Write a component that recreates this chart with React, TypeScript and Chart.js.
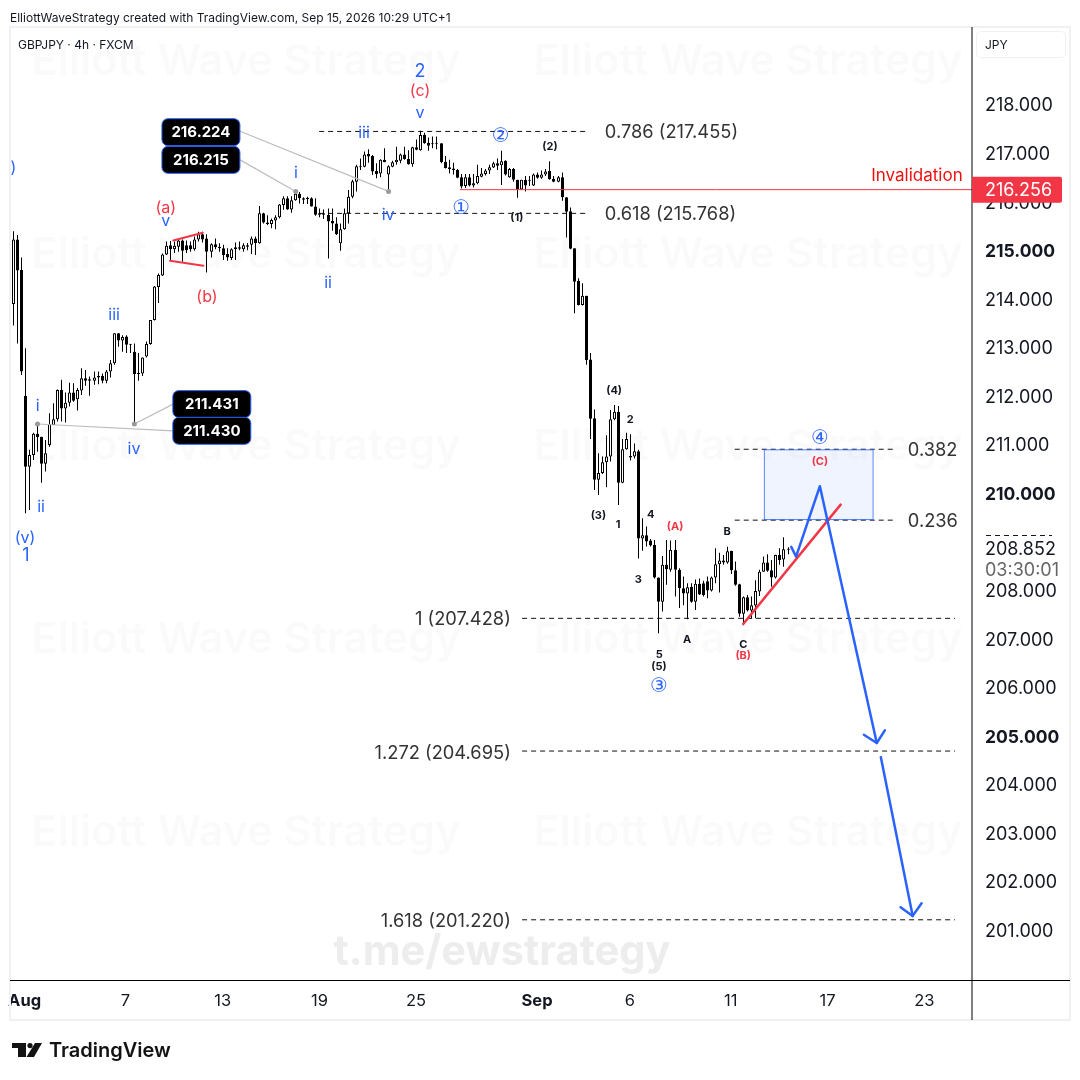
import React, { useEffect, useRef } from "react";
import { Chart, registerables } from "chart.js";

Chart.register(...registerables);

const FONT = "Inter, 'Noto Sans', sans-serif";
const BLUE = "#2962ff";
const RED = "#f23645";
const INK = "#131722";

const opens = [213.92,213.90,215.23,214.60,212.01,210.55,210.79,211.23,211.17,210.61,211.00,211.41,211.53,212.13,211.75,211.87,212.08,211.94,212.12,212.37,212.35,212.32,212.42,212.42,212.32,212.51,212.68,213.30,213.15,213.23,213.08,212.92,212.47,212.47,212.82,213.08,213.57,214.25,214.49,214.92,215.11,215.03,215.08,215.21,215.11,215.11,215.03,215.23,215.34,215.25,214.98,215.13,215.08,215.05,214.93,214.85,215.03,215.07,215.03,215.11,215.12,215.25,215.15,215.77,215.58,215.55,215.62,215.69,215.94,216.08,215.85,216.04,216.17,216.08,216.09,216.08,215.91,215.77,215.77,215.74,215.61,215.56,215.15,215.44,215.77,216.11,216.42,216.74,216.73,216.99,216.95,216.64,216.59,216.87,216.57,216.73,216.82,216.85,216.98,216.89,216.78,217.13,217.07,217.38,217.22,217.20,217.21,217.21,216.83,216.72,216.69,216.66,216.51,216.33,216.51,216.34,216.39,216.52,216.58,216.65,216.71,216.80,216.76,216.85,216.51,216.68,216.46,216.26,216.46,216.46,216.34,216.57,216.50,216.57,216.64,216.48,216.42,216.51,216.10,215.81,215.05,214.38,213.88,214.07,212.76,211.55,210.28,210.42,210.64,210.76,211.53,211.68,210.22,210.91,210.77,210.76,210.87,209.07,209.14,209.03,208.94,208.27,207.77,208.53,208.43,208.84,208.43,208.05,207.94,208.08,207.77,208.14,208.15,208.19,208.00,208.27,208.54,208.62,208.58,208.82,208.42,208.13,207.52,207.86,207.59,207.69,207.98,208.39,208.58,208.42,208.27,208.73,208.64,208.85];
const highs = [216.08,215.40,215.32,214.86,212.99,210.90,211.25,211.44,211.17,211.10,211.65,211.86,212.14,212.34,212.08,212.28,212.27,212.17,212.58,212.54,212.41,212.51,212.51,212.47,212.54,212.75,213.30,213.30,213.26,213.26,213.08,213.09,212.89,212.80,213.13,213.57,214.27,214.53,214.94,215.19,215.20,215.19,215.23,215.23,215.21,215.19,215.29,215.39,215.39,215.34,215.15,215.25,215.15,215.12,215.05,215.05,215.17,215.19,215.15,215.16,215.29,215.29,215.92,215.78,215.73,215.66,215.73,215.96,216.12,216.12,216.12,216.22,216.21,216.10,216.11,216.10,216.08,215.87,215.85,215.87,215.87,215.69,215.56,215.87,216.25,216.46,216.77,216.90,217.04,217.09,216.97,216.80,216.88,217.11,216.76,216.85,217.14,217.00,217.14,217.07,217.14,217.29,217.47,217.43,217.33,217.35,217.35,217.21,216.95,216.87,216.81,216.68,216.58,216.58,216.58,216.58,216.77,216.70,216.68,216.77,216.83,216.90,217.06,216.86,216.70,216.70,216.46,216.46,216.54,216.54,216.59,216.61,216.65,216.68,216.84,216.54,216.54,216.61,216.10,215.89,215.05,214.43,214.33,214.07,212.89,211.73,210.83,210.76,211.20,211.72,211.82,211.80,211.12,211.25,211.22,211.03,210.90,209.49,209.32,209.06,209.04,208.27,208.71,209.04,209.03,209.04,208.46,208.29,208.15,208.15,208.23,208.25,208.20,208.29,208.29,208.87,208.78,208.73,208.90,208.82,208.60,208.14,207.88,207.91,207.88,208.21,208.43,208.70,208.75,208.63,208.74,208.87,209.10,208.89];
const lows = [213.92,213.46,213.09,212.44,209.59,209.66,210.69,210.86,210.22,210.45,210.96,211.41,211.48,211.48,211.46,211.79,211.89,211.71,212.03,212.22,212.01,212.24,212.25,212.27,212.27,212.39,212.65,213.02,212.92,212.89,212.89,211.43,212.32,212.42,212.80,213.06,213.56,213.92,214.48,214.91,214.81,214.95,214.98,214.77,214.95,214.98,215.00,215.19,215.17,214.55,214.86,215.03,214.98,214.81,214.79,214.81,214.81,215.01,214.98,215.01,214.93,214.91,215.14,215.56,215.53,215.46,215.44,215.66,215.84,215.84,215.78,216.03,215.97,215.96,215.96,215.91,215.72,215.69,215.65,214.84,215.41,215.32,215.00,215.43,215.56,216.08,216.22,216.66,216.72,216.81,216.56,216.49,216.51,216.82,216.22,216.72,216.77,216.80,216.87,216.77,216.73,217.07,217.06,217.20,217.06,217.11,217.09,216.80,216.69,216.59,216.57,216.49,216.28,216.29,216.32,216.30,216.37,216.51,216.55,216.58,216.70,216.66,216.35,216.55,216.50,216.42,216.09,216.25,216.22,216.33,216.33,216.48,216.48,216.54,216.46,216.41,216.41,216.03,215.27,215.03,213.71,213.87,213.87,212.65,211.12,210.07,209.97,210.40,210.13,210.66,211.51,209.76,210.21,210.90,210.68,210.72,208.66,208.82,208.91,208.91,208.25,207.12,207.57,208.12,208.39,207.88,207.64,207.70,207.41,207.75,207.60,207.91,207.88,207.84,207.98,208.15,207.96,208.53,208.55,208.34,208.10,207.46,207.29,207.57,207.43,207.43,207.89,208.39,208.39,208.08,208.25,208.53,208.49,208.75];
const closes = [216.08,215.23,214.59,212.51,210.55,210.79,211.23,211.16,210.61,210.83,211.43,211.53,212.13,211.75,211.87,212.08,211.91,212.13,212.37,212.32,212.32,212.39,212.39,212.32,212.51,212.68,213.30,213.15,213.22,213.06,213.06,212.46,212.46,212.80,213.08,213.57,214.26,214.50,214.92,215.10,215.03,215.10,215.21,215.00,215.01,215.03,215.23,215.34,215.23,214.98,215.13,215.07,215.05,214.91,214.86,215.03,215.07,215.04,215.11,215.08,215.25,215.15,215.77,215.58,215.55,215.63,215.69,215.95,216.08,215.85,216.04,216.17,216.08,216.05,216.06,215.91,215.74,215.74,215.74,215.60,215.56,215.34,215.44,215.77,216.11,216.43,216.74,216.72,216.98,216.94,216.63,216.58,216.87,216.82,216.74,216.82,216.87,216.98,216.89,216.78,217.13,217.08,217.38,217.21,217.16,217.19,217.20,216.82,216.70,216.68,216.66,216.50,216.32,216.51,216.34,216.39,216.54,216.59,216.65,216.72,216.80,216.75,216.84,216.57,216.68,216.46,216.26,216.46,216.34,216.44,216.57,216.50,216.57,216.63,216.47,216.42,216.51,216.10,215.80,215.04,214.36,213.88,214.07,212.75,211.54,210.28,210.42,210.64,210.76,211.53,211.68,210.22,210.91,211.12,210.74,210.87,209.07,209.14,209.01,208.93,208.27,207.77,208.53,208.44,208.84,208.43,208.05,207.94,208.07,207.77,208.14,207.92,207.91,208.00,208.27,208.54,208.62,208.58,208.81,208.42,208.12,207.52,207.86,207.59,207.70,207.99,208.39,208.58,208.41,208.27,208.73,208.63,208.85,208.84];

const xTickBars = [3.8, 28.8, 52.9, 76.9, 100.8, 130.8, 153.8, 178.8, 202.8, 226.8];
const xTickLabels = ["Aug", "7", "13", "19", "25", "Sep", "6", "11", "17", "23"];
const xTickBold = ["Aug", "Sep"];
const yTickValues = [201,202,203,204,205,206,207,208,210,211,212,213,214,215,216,217,218];

// [level, first bar, last bar]
const fibLevels = [
  [217.455, 76.8, 143.4],
  [215.768, 76.8, 143.4],
  [210.91, 179.8, 219.5],
  [209.45, 179.8, 219.5],
  [207.428, 127.1, 234.4],
  [204.695, 127.1, 234.4],
  [201.22, 127.1, 234.4],
];
const invalidationLine = [[111.7, 216.256], [239, 216.256]];
const wedgeUpper = [[40.65, 215.21], [47.94, 215.37]];
const wedgeLower = [[39.85, 214.79], [48.1, 214.69]];
const trendLine = [[181.9, 207.31], [206.05, 209.77]];
const wavePath = [[193.8, 208.9], [195, 208.7], [200.9, 210.15], [215, 204.86]];
const arrowHeadOne = [[211.8, 205.03], [215, 204.86], [217, 205.12]];
const waveTail = [[216, 204.57], [223.9, 201.3]];
const arrowHeadTwo = [[220.9, 201.48], [223.9, 201.3], [226.1, 201.56]];
const targetBox = { bar: 200.6, low: 209.45, high: 210.91 };
const calloutLines = [
  [[57.2, 217.46], [94, 216.22]],
  [[57.2, 216.87], [71, 216.22]],
  [[40.6, 211.84], [31, 211.43]],
  [[40.6, 211.29], [7, 211.43]],
];
// [text, bar, price]
const callouts = [
  ["216.224", 47.5, 217.44],
  ["216.215", 47.5, 216.87],
  ["211.431", 50.2, 211.84],
  ["211.430", 50.2, 211.29],
];

// [text, bar, price]
const blueLabels = [
  [")", 1, 216.72],["(v)", 3.9, 209.1],["i", 7.05, 211.81],["ii", 7.87, 209.73],["iii", 26, 213.7],["iv", 30.9, 210.94],["v", 38.8, 215.63],
  ["i", 71.05, 216.62],["ii", 79, 214.36],["iii", 87.9, 217.44],["iv", 93.9, 215.76],["v", 101.8, 217.86],
];
const blueLargeLabels = [["1", 4.15, 208.75],["2", 101.8, 218.7]];
const blueCircled = [["①", 112, 215.88],["②", 121.8, 217.36],["③", 161, 206.04],["④", 200.9, 211.15]];
const redLabels = [["(a)", 38.8, 215.9],["(b)", 49, 214.07],["(c)", 101.8, 218.31]];
const redSmallLabels = [["(A)", 165, 209.34],["(B)", 181.9, 206.67],["(C)", 200.9, 210.67]];
const blackSmallLabels = [
  ["(1)", 125.8, 215.69],["(2)", 134, 217.16],["(4)", 149.9, 212.13],["2", 153.9, 211.53],["(3)", 146, 209.57],["1", 150.9, 209.37],
  ["4", 159, 209.59],["3", 155.9, 208.25],["A", 168, 207],["5", 161.1, 206.71],["(5)", 161, 206.45],["B", 177.9, 209.23],["C", 181.9, 206.91],
];
const fibTextsLeft = [["0.786 (217.455)", 147.6, 217.45],["0.618 (215.768)", 147.6, 215.77],["0.382", 222.7, 210.9],["0.236", 222.7, 209.44]];
const fibTextsRight = [["1 (207.428)", 124.3, 207.43],["1.272 (204.695)", 124.3, 204.67],["1.618 (201.220)", 124.3, 201.2]];
const invalidationText = ["Invalidation", 236.3, 216.56];

const headerText = "ElliottWaveStrategy created with TradingView.com, Sep 15, 2026 10:29 UTC+1";
const symbolText = "GBPJPY · 4h · FXCM";
const watermarkText = "Elliott Wave Strategy";
const watermarkLink = "t.me/ewstrategy";
const lastPriceTag = "216.256";
const livePrice = "208.852";
const countdown = "03:30:01";

const asPoints = (pts: number[][]) => pts.map(([x, y]) => ({ x, y }));
const line = (pts: number[][], color: string, width: number, order: number, extra: any = {}) => ({
  type: "line",
  data: asPoints(pts),
  borderColor: color,
  backgroundColor: color,
  borderWidth: width,
  pointRadius: 0,
  tension: 0,
  order,
  borderCapStyle: "round",
  borderJoinStyle: "round",
  ...extra,
});

const overlay = {
  id: "overlay",
  afterDatasetsUpdate(chart: any) {
    chart.data.datasets.forEach((d: any, i: number) => {
      if (!d.snap) return;
      chart.getDatasetMeta(i).data.forEach((el: any) => {
        el.x = Math.round(el.x - 0.5) + 0.5;
      });
    });
  },
  beforeDatasetsDraw(chart: any) {
    const c = chart.ctx;
    c.save();
    c.textBaseline = "middle";
    c.textAlign = "center";
    c.font = `600 43px ${FONT}`;
    c.fillStyle = "rgba(0,0,0,0.018)";
    for (const y of [62, 255, 447, 640, 833]) {
      c.fillText(watermarkText, 246, y);
      c.fillText(watermarkText, 748, y);
    }
    c.font = `700 41.5px ${FONT}`;
    c.fillStyle = "#ededed";
    c.fillText(watermarkLink, 502, 953);
    c.restore();
  },
  afterDatasetsDraw(chart: any) {
    const c = chart.ctx;
    const xs = chart.scales.x;
    const ys = chart.scales.y;
    const text = (rows: any[], color: string, font: string, align: CanvasTextAlign = "center") => {
      c.fillStyle = color;
      c.font = font;
      c.textAlign = align;
      c.textBaseline = "middle";
      for (const [t, bar, price] of rows) c.fillText(t, xs.getPixelForValue(bar), ys.getPixelForValue(price) + 1);
    };
    c.save();
    text(blueLabels, BLUE, `400 16px ${FONT}`);
    text(blueLargeLabels, BLUE, `400 18px ${FONT}`);
    text(blueCircled, BLUE, `400 20px 'DejaVu Sans'`);
    text(redLabels, RED, `400 16px ${FONT}`);
    text(redSmallLabels, RED, `700 11px ${FONT}`);
    text(blackSmallLabels, INK, `700 11px ${FONT}`);
    text(fibTextsLeft, "#333", `400 18.3px ${FONT}`, "left");
    text(fibTextsRight, "#333", `400 18.3px ${FONT}`, "right");
    text([invalidationText], "#f00f0f", `400 17px ${FONT}`, "right");

    for (const [t, bar, price] of callouts as any[]) {
      const cx = xs.getPixelForValue(bar);
      const cy = ys.getPixelForValue(price);
      c.beginPath();
      c.roundRect(cx - 39, cy - 13.5, 78, 27, 6);
      c.fillStyle = "#000";
      c.fill();
      c.strokeStyle = BLUE;
      c.lineWidth = 1;
      c.stroke();
      c.fillStyle = "#fff";
      c.font = `700 15px ${FONT}`;
      c.textAlign = "center";
      c.textBaseline = "middle";
      c.fillText(t, cx, cy + 0.5);
    }
    c.restore();
  },
  afterDraw(chart: any) {
    const c = chart.ctx;
    const ys = chart.scales.y;
    c.save();
    // frame
    c.strokeStyle = "#f0f1f3";
    c.lineWidth = 2;
    c.strokeRect(10, 27, 1060, 993);
    c.fillStyle = "#000";
    c.fillRect(971.5, 27, 1, 993);
    c.fillRect(10, 980, 1060, 1);

    // unit box
    c.beginPath();
    c.roundRect(976.5, 31.5, 89, 26, 4);
    c.strokeStyle = "#f0f1f3";
    c.lineWidth = 1;
    c.stroke();
    c.fillStyle = INK;
    c.textBaseline = "middle";
    c.textAlign = "left";
    c.font = `400 12px ${FONT}`;
    c.fillText("JPY", 985, 45);
    c.fillText(symbolText, 18, 45);
    c.fillText(headerText, 10, 18);

    // last price tag
    const py = ys.getPixelForValue(216.256);
    c.beginPath();
    c.roundRect(972, py - 13, 90, 26, [0, 2, 2, 0]);
    c.fillStyle = RED;
    c.fill();
    c.fillStyle = "#fff";
    c.font = `400 18px ${FONT}`;
    c.fillText(lastPriceTag, 985, py + 1);

    // live price
    c.fillStyle = "#fff";
    c.fillRect(980, 537, 85, 40);
    c.fillStyle = INK;
    c.fillText(livePrice, 985, 549.5);
    c.fillStyle = "#666";
    c.fillText(countdown, 985, 570.5);
    c.strokeStyle = INK;
    c.lineWidth = 1;
    c.setLineDash([5, 4]);
    c.beginPath();
    c.moveTo(986, 535.5);
    c.lineTo(1052, 535.5);
    c.stroke();
    c.setLineDash([]);

    // brand
    c.fillStyle = "#131313";
    c.fillRect(12, 1043, 14, 5);
    c.fillRect(18, 1043, 8, 14);
    c.beginPath();
    c.arc(30, 1045.6, 2.6, 0, Math.PI * 2);
    c.fill();
    c.beginPath();
    c.moveTo(35, 1043);
    c.lineTo(42, 1043);
    c.lineTo(34, 1057);
    c.lineTo(26.5, 1057);
    c.closePath();
    c.fill();
    c.font = `600 20px ${FONT}`;
    c.fillText("TradingView", 49, 1050.5);
    c.restore();
  },
};

export default function App() {
  const ref = useRef<HTMLCanvasElement>(null);
  useEffect(() => {
    const bars = opens.map((_, i) => i);
    const chart = new Chart(ref.current as HTMLCanvasElement, {
      data: {
        datasets: [
          {
            type: "bar",
            snap: true,
            data: bars.map((i) => ({ x: i, y: [opens[i], closes[i]] })),
            backgroundColor: bars.map((i) => (closes[i] >= opens[i] ? "#ffffff" : "#000000")),
            borderColor: "#000000",
            borderWidth: 1,
            borderSkipped: false,
            barThickness: 3,
            minBarLength: 1,
            inflateAmount: 0,
            grouped: false,
            order: 5,
          },
          {
            type: "bar",
            snap: true,
            data: bars.map((i) => ({ x: i, y: [lows[i], highs[i]] })),
            backgroundColor: "#000000",
            borderWidth: 0,
            barThickness: 1,
            inflateAmount: 0,
            grouped: false,
            order: 6,
          },
          {
            type: "bar",
            data: [{ x: targetBox.bar, y: [targetBox.low, targetBox.high] }],
            backgroundColor: "rgba(41,98,255,0.07)",
            borderColor: "#2962ff",
            borderWidth: 1,
            borderSkipped: false,
            barThickness: 110,
            inflateAmount: 0,
            grouped: false,
            order: 7,
          },
          ...fibLevels.map(([level, a, b]) =>
            line([[a, level], [b, level]], "#111", 1, 8, { borderDash: [5, 4], borderCapStyle: "butt" })
          ),
          line(invalidationLine, RED, 1, 4, { borderCapStyle: "butt" }),
          line(wedgeUpper, RED, 2, 3),
          line(wedgeLower, RED, 2, 3),
          line(trendLine, RED, 2.5, 3),
          line(wavePath, BLUE, 2.5, 2),
          line(arrowHeadOne, BLUE, 2.5, 2),
          line(waveTail, BLUE, 2.5, 2),
          line(arrowHeadTwo, BLUE, 2.5, 2),
          ...calloutLines.map((pts) =>
            line(pts, "#bdbdbd", 1.2, 1, { pointRadius: [0, 2.5], pointBackgroundColor: "#9a9a9a", pointBorderWidth: 0 })
          ),
        ] as any,
      },
      options: {
        responsive: false,
        animation: false,
        events: [],
        devicePixelRatio: 1,
        layout: { padding: { left: 10, top: 27, right: 0, bottom: 60 } },
        plugins: { legend: { display: false }, tooltip: { enabled: false } },
        scales: {
          x: {
            type: "linear",
            offset: false,
            min: 0.18,
            max: 238.6,
            grid: { display: false },
            border: { display: false },
            afterFit: (s: any) => { s.height = 40; s.paddingLeft = 0; s.paddingRight = 0; },
            afterBuildTicks: (s: any) => { s.ticks = xTickBars.map((value) => ({ value })); },
            ticks: {
              autoSkip: false,
              maxRotation: 0,
              padding: 3,
              color: INK,
              font: (ctx: any) => ({
                family: FONT,
                size: 16.5,
                weight: xTickBold.includes(xTickLabels[ctx.index]) ? 700 : 400,
              }),
              callback: (_v: any, i: number) => xTickLabels[i],
            },
          },
          y: {
            type: "linear",
            position: "right",
            min: 199.98,
            max: 219.606,
            grid: { display: false, drawTicks: false },
            border: { display: false },
            afterFit: (s: any) => { s.width = 108; },
            afterBuildTicks: (s: any) => { s.ticks = yTickValues.map((value) => ({ value })); },
            ticks: {
              autoSkip: false,
              padding: 13,
              labelOffset: 1,
              color: INK,
              font: (ctx: any) => ({
                family: FONT,
                size: ctx.tick && ctx.tick.value % 5 === 0 ? 17.5 : 18,
                weight: ctx.tick && ctx.tick.value % 5 === 0 ? 700 : 400,
              }),
              callback: (v: any) => Number(v).toFixed(3),
            },
          },
        },
      } as any,
      plugins: [overlay],
    } as any);
    return () => chart.destroy();
  }, []);
  return (
    <canvas
      ref={ref}
      width={1080}
      height={1080}
      style={{ position: "fixed", left: 0, top: 0, width: 1080, height: 1080, background: "#fff" }}
    />
  );
}
